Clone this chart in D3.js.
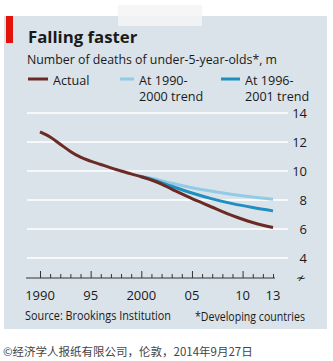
<!DOCTYPE html>
<html>
<head>
<meta charset="utf-8">
<script src="https://cdn.jsdelivr.net/npm/d3@7"></script>
<style>
  body { margin: 0; background: #fff; }
  text { font-family: "Open Sans", sans-serif; fill: #1a1a1a; }
</style>
</head>
<body>
<svg id="chart" width="333" height="361"></svg>
<script>
// values, deaths in millions
var years = d3.range(1990, 2014);
var actual = [12.7, 12.35, 11.85, 11.35, 10.95, 10.68, 10.45, 10.22, 10.0, 9.8, 9.6, 9.38,
              9.1, 8.75, 8.42, 8.1, 7.8, 7.5, 7.2, 6.92, 6.67, 6.45, 6.26, 6.1];
var trendYears = [2000, 2001, 2003, 2005, 2007, 2009, 2011, 2013];
var trend9000 = [9.62, 9.5, 9.15, 8.85, 8.6, 8.38, 8.2, 8.05];
var trend9601 = [9.6, 9.42, 8.95, 8.48, 8.08, 7.75, 7.48, 7.25];
var yTicks = [4, 6, 8, 10, 12, 14];
var xLabels = [[1990, "1990"], [1995, "95"], [2000, "2000"], [2005, "05"], [2010, "10"], [2013, "13"]];

var svg = d3.select("#chart");

// panel
svg.append("rect").attr("x", 4).attr("y", 16).attr("width", 323).attr("height", 313)
  .style("fill", "#dae3e9");
// bit of tape at the top
svg.append("rect").attr("x", 118).attr("y", 5).attr("width", 84).attr("height", 21)
  .style("fill", "#f4f5f6").style("opacity", 0.85);
svg.append("rect").attr("x", 6).attr("y", 16).attr("width", 7).attr("height", 27)
  .style("fill", "#e3120b");

svg.append("text").attr("x", 28).attr("y", 43)
  .style("font-size", "16.8px").style("font-weight", "bold").text("Falling faster");
svg.append("text").attr("x", 27).attr("y", 64)
  .attr("textLength", 250).attr("lengthAdjust", "spacingAndGlyphs")
  .style("font-size", "12.6px").text("Number of deaths of under-5-year-olds*, m");

// legend
var legend = [
  {x: 28, w: 20, c: "#6b2a24", t: ["Actual"]},
  {x: 120, w: 14, c: "#92cbe6", t: ["At 1990-", "2000 trend"]},
  {x: 221, w: 19, c: "#1f8fbf", t: ["At 1996-", "2001 trend"]}
];
legend.forEach(function(d) {
  svg.append("line").attr("x1", d.x).attr("x2", d.x + d.w).attr("y1", 79).attr("y2", 79)
    .style("stroke", d.c).style("stroke-width", 3);
  d.t.forEach(function(s, i) {
    svg.append("text").attr("x", d.x + d.w + 5).attr("y", 85 + i * 16)
      .style("font-size", "12.6px").text(s);
  });
});

var x = d3.scaleLinear().domain([1990, 2013]).range([40, 273]);
var y = d3.scaleLinear().domain([4, 14]).range([258, 113]);

// gridlines + labels on the right
svg.selectAll(".grid").data(yTicks).enter().append("line")
  .attr("x1", 27).attr("x2", 288)
  .attr("y1", function(d) { return y(d); }).attr("y2", function(d) { return y(d); })
  .style("stroke", "#fff").style("stroke-width", 1.3);
svg.selectAll(".ylab").data(yTicks).enter().append("text")
  .attr("x", 307).attr("y", function(d) { return y(d) + 5; })
  .attr("text-anchor", "end").style("font-size", "13px").text(function(d) { return d; });

// x axis with yearly ticks pointing up
var axisY = 278;
var xAxis = d3.axisTop(x).tickValues(years).tickSize(0).tickFormat("");
var gx = svg.append("g").attr("transform", "translate(0," + axisY + ")").call(xAxis);
gx.select(".domain").remove();
svg.append("line").attr("x1", 26).attr("x2", 275).attr("y1", axisY).attr("y2", axisY)
  .style("stroke", "#333").style("stroke-width", 1);
gx.selectAll(".tick line")
  .attr("y2", function(d) { return d % 5 == 0 ? -7 : -4; })
  .style("stroke", "#333");
// axis break
svg.append("text").attr("x", 300).attr("y", axisY + 4).attr("text-anchor", "middle")
  .style("font-size", "12px").style("font-style", "italic").text("≁");

svg.selectAll(".xlab").data(xLabels).enter().append("text")
  .attr("x", function(d) { return x(d[0]); }).attr("y", 300)
  .attr("text-anchor", "middle").style("font-size", "13px")
  .text(function(d) { return d[1]; });

// lines
var line = d3.line().curve(d3.curveMonotoneX);
function draw(xs, vs, col) {
  svg.append("path")
    .attr("d", line(xs.map(function(yr, i) { return [x(yr), y(vs[i])]; })))
    .style("fill", "none").style("stroke", col).style("stroke-width", 3);
}
draw(trendYears, trend9000, "#92cbe6");
draw(trendYears, trend9601, "#1f8fbf");
draw(years, actual, "#6b2a24");

svg.append("text").attr("x", 25).attr("y", 320)
  .attr("textLength", 146).attr("lengthAdjust", "spacingAndGlyphs")
  .style("font-size", "12px").text("Source: Brookings Institution");
svg.append("text").attr("x", 195).attr("y", 321)
  .attr("textLength", 110).attr("lengthAdjust", "spacingAndGlyphs")
  .style("font-size", "12px").text("*Developing countries");

svg.append("text").attr("x", 3).attr("y", 356)
  .style("font-family", "'Noto Sans CJK SC', sans-serif").style("font-size", "11.5px")
  .style("fill", "#444").text("©经济学人报纸有限公司，伦敦，2014年9月27日");
</script>
</body>
</html>
